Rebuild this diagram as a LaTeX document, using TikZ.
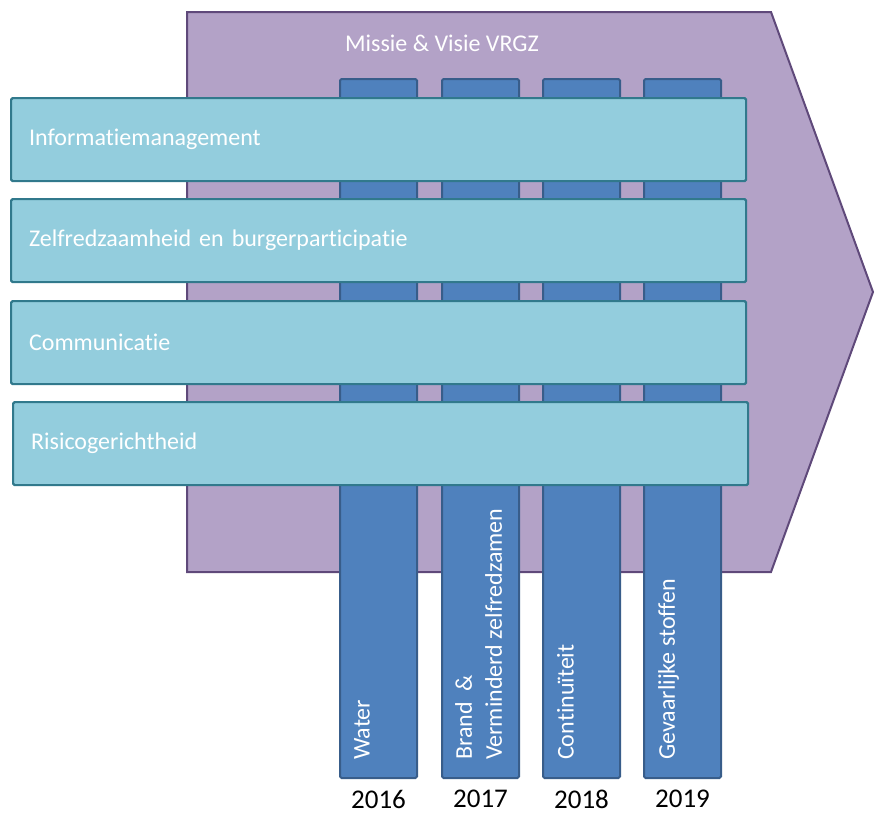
\documentclass[tikz,border=0pt]{standalone}
\usepackage{fontspec}
\setmainfont{Carlito}[Ligatures={NoCommon}]
\definecolor{pfill}{HTML}{B3A2C7}
\definecolor{pline}{HTML}{5F497A}
\definecolor{colfill}{HTML}{4F81BD}
\definecolor{colline}{HTML}{385D8A}
\definecolor{barfill}{HTML}{93CDDD}
\definecolor{barline}{HTML}{31798C}
\begin{document}
\begin{tikzpicture}[x=1pt,y=-1pt,
  colbox/.style={draw=colline, fill=colfill, line width=2pt, rounded corners=1.5pt,
    minimum width=77pt, minimum height=699pt, anchor=north west, inner sep=0pt},
  coltext/.style={rotate=90, anchor=north west, inner sep=0pt, text=white,
    align=left, font=\fontsize{24}{30}\selectfont},
  barbox/.style={draw=barline, fill=barfill, line width=2.2pt, rounded corners=1.5pt,
    anchor=north west, minimum height=83pt, text width=699pt, inner xsep=18pt,
    inner ysep=0pt, align=left, text=white, font=\fontsize{24}{28}\selectfont},
  yearlbl/.style={text=black, font=\fontsize{27}{30}\selectfont, inner sep=0pt},
  titlelbl/.style={text=white, font=\fontsize{24}{28}\selectfont, inner sep=0pt}]
\useasboundingbox (0,0) rectangle (875,814);
% pentagon arrow
\draw[fill=pfill, draw=pline, line width=2pt, line join=miter]
  (187,12) -- (771,12) -- (873,292) -- (771,572) -- (187,572) -- cycle;
\node[titlelbl] (title) at (442,43) {Missie \& Visie VRGZ};
% columns
\node[colbox] (c1) at (339,78) {};
\node[colbox] (c2) at (441,78) {};
\node[colbox] (c3) at (542,78) {};
\node[colbox] (c4) at (643,78) {};
% bars
\node[barbox] (b1) at (10,97) {Informatiemanagement};
\node[barbox] (b2) at (10,198) {Zelfredzaamheid en burgerparticipatie};
\node[barbox] (b3) at (10,300) {Communicatie};
\node[barbox] (b4) at (12,401) {Risicogerichtheid};
% column texts
\node[coltext] (t1) at ([xshift=15pt,yshift=19pt]c1.south west) {Water};
\node[coltext] (t2) at ([xshift=14pt,yshift=19pt]c2.south west) {Brand\ \ \&\\Verminderd zelfredzamen};
\node[coltext] (t3) at ([xshift=15pt,yshift=19pt]c3.south west) {Continuïteit};
\node[coltext] (t4) at ([xshift=15pt,yshift=19pt]c4.south west) {Gevaarlijke stoffen};
% years
\node[yearlbl] (y1) at ([yshift=-20pt]c1.south) {2016};
\node[yearlbl] (y2) at ([yshift=-20pt]c2.south) {2017};
\node[yearlbl] (y3) at ([yshift=-20pt]c3.south) {2018};
\node[yearlbl] (y4) at ([yshift=-20pt]c4.south) {2019};
\end{tikzpicture}
\end{document}
